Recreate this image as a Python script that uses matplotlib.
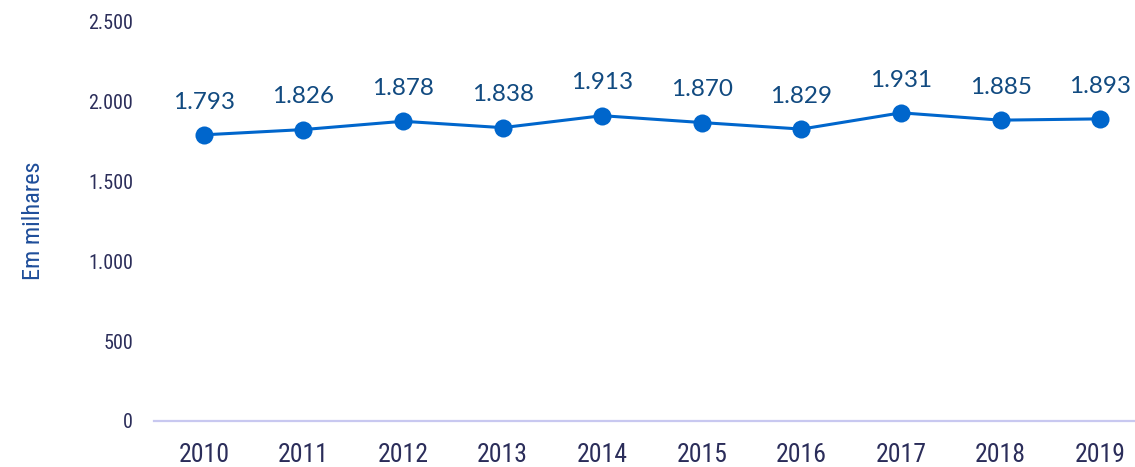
import matplotlib
matplotlib.use("Agg")
import matplotlib.pyplot as plt

years = ["2010", "2011", "2012", "2013", "2014", "2015", "2016", "2017", "2018", "2019"]
values = [1793, 1826, 1878, 1838, 1913, 1870, 1829, 1931, 1885, 1893]
value_labels = ["1.793", "1.826", "1.878", "1.838", "1.913", "1.870", "1.829", "1.931", "1.885", "1.893"]
y_ticks = [0, 500, 1000, 1500, 2000, 2500]
y_tick_labels = ["0", "500", "1.000", "1.500", "2.000", "2.500"]

# narrow fonts first in case one of them is installed
NARROW = ["Roboto Condensed", "Liberation Sans Narrow", "Arial Narrow", "Liberation Sans", "DejaVu Sans"]
TICK_COLOR = "#2b2d5a"
LINE_COLOR = "#0066cc"
LABEL_COLOR = "#114a80"

fig = plt.figure(figsize=(11.35, 4.67), dpi=100)
fig.patch.set_facecolor("white")

# axes stretches a bit past the right edge, like the original
ax = fig.add_axes([154 / 1135, 46 / 467, 996 / 1135, 399 / 467])
ax.set_facecolor("none")

x = list(range(len(years)))
ax.plot(x, values, color=LINE_COLOR, linewidth=2.2, marker="o", markersize=13,
        markeredgewidth=0, zorder=3)

for xi, v, lab in zip(x, values, value_labels):
    ax.annotate(lab, (xi, v), xytext=(0, 16), textcoords="offset points",
                ha="center", va="bottom", fontsize=17.5, color=LABEL_COLOR,
                family=["Lato", "DejaVu Sans"])

ax.set_xlim(-0.5, len(years) - 0.5)
ax.set_ylim(0, 2500)
ax.set_xticks(x)
ax.set_xticklabels(years, family=NARROW, fontsize=18.5, color=TICK_COLOR)
ax.set_yticks(y_ticks)
ax.set_yticklabels(y_tick_labels, family=NARROW, fontsize=14.5, color=TICK_COLOR)
ax.tick_params(axis="both", length=0)
ax.tick_params(axis="y", pad=15)
ax.tick_params(axis="x", pad=16)

for side in ["top", "right", "left"]:
    ax.spines[side].set_visible(False)
ax.spines["bottom"].set_color("#c8c8f0")
ax.spines["bottom"].set_linewidth(1.6)

fig.text(34 / 1135, 1 - 221 / 467, "Em milhares", rotation=90, ha="center", va="center",
         fontsize=17.5, color="#1f4e9a", family=NARROW)

fig.savefig("out.png", dpi=100, facecolor="white")
